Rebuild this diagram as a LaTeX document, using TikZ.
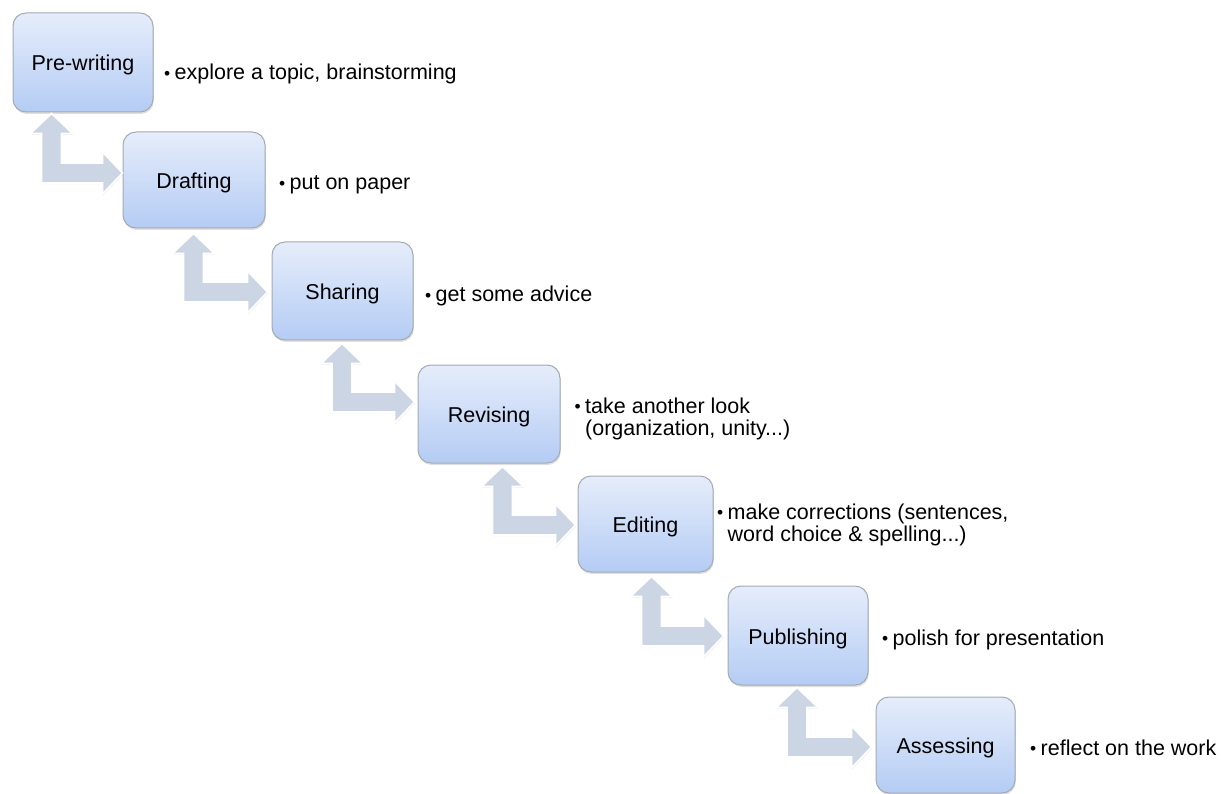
\documentclass[tikz,border=0pt]{standalone}
\usepackage{fontspec}
\setmainfont{Liberation Sans}
\usetikzlibrary{calc,shadows}
\definecolor{boxtop}{HTML}{E6EDFB}
\definecolor{boxbot}{HTML}{B4CCF4}
\definecolor{boxline}{HTML}{A3AAB3}
\definecolor{arrowfill}{HTML}{CCD5E3}
\tikzset{
  stepbox/.style={draw=boxline, line width=1pt, rounded corners=13pt,
    top color=boxtop, bottom color=boxbot, inner sep=0pt,
    text height=18pt, text depth=1pt,
    font=\fontsize{21.5}{22}\selectfont,
    drop shadow={opacity=0.25, shadow xshift=0.8pt, shadow yshift=-2pt}},
  bullettext/.style={anchor=base west, inner sep=0pt,
    font=\fontsize{21.5}{22}\selectfont},
  bentarrow/.style={fill=arrowfill, draw=white, line width=1.6pt, line join=miter,
    drop shadow={opacity=0.2, shadow xshift=0.6pt, shadow yshift=-1.2pt}}
}
\newcommand\bul{\makebox[11.5pt][l]{\hspace{1pt}{\fontsize{17.5}{17.5}\selectfont\raisebox{0.3pt}{•}}}}
\newcommand\bulindent{\hspace*{11.5pt}}
% #1 upper node, #2 lower node, #3 x offset of vertical shaft from upper south west,
% #4 gap below upper box, #5 gap before lower box, #6 y offset of horizontal shaft from lower west
\newcommand\drawbent[6]{%
  \path[bentarrow] let \p1=($(#1.south west)+(#3,#4)$), \p2=($(#2.west)+(#5,#6)$) in
    (\x1,\y1) -- (\x1+21pt,\y1-20pt) -- (\x1+10pt,\y1-20pt) -- (\x1+10pt,\y2+10pt)
    -- (\x2-20pt,\y2+10pt) -- (\x2-20pt,\y2+21pt) -- (\x2,\y2)
    -- (\x2-20pt,\y2-21pt) -- (\x2-20pt,\y2-10pt) -- (\x1-10pt,\y2-10pt)
    -- (\x1-10pt,\y1-20pt) -- (\x1-21pt,\y1-20pt) -- cycle;}
\begin{document}
\begin{tikzpicture}[x=1pt,y=-1pt]
\useasboundingbox (0,0) rectangle (1221,794);

\node[stepbox, minimum width=140pt, minimum height=99pt] (pre) at (83,62.5) {Pre-writing};
\node[stepbox, minimum width=142pt, minimum height=96pt] (dra) at (194,180) {Drafting};
\node[stepbox, minimum width=141pt, minimum height=98pt] (sha) at (342.5,291) {Sharing};
\node[stepbox, minimum width=142pt, minimum height=98pt] (rev) at (489,414) {Revising};
\node[stepbox, minimum width=135pt, minimum height=96pt] (edi) at (645.5,524) {Editing};
\node[stepbox, minimum width=140pt, minimum height=99pt] (pub) at (798,635.5) {Publishing};
\node[stepbox, minimum width=139pt, minimum height=96pt] (ass) at (945.5,745) {Assessing};

\drawbent{pre}{dra}{39}{1}{0}{-7}
\drawbent{dra}{sha}{71}{5}{-4}{1}
\drawbent{sha}{rev}{70.5}{3}{-3}{-12}
\drawbent{rev}{edi}{85}{3}{-2}{1}
\drawbent{edi}{pub}{74}{4}{-4}{0.5}
\drawbent{pub}{ass}{69.5}{2}{-4}{2}

\node[bullettext] (t1) at (163,80) {\bul explore a topic, brainstorming};
\node[bullettext] (t2) at (278,190) {\bul put on paper};
\node[bullettext] (t3) at (424,302) {\bul get some advice};
\node[bullettext] (t4) at (573.5,413) {\begin{tabular}[t]{@{}l@{}}\bul take another look\\\bulindent(organization, unity...)\end{tabular}};
\node[bullettext] (t5) at (716,519) {\begin{tabular}[t]{@{}l@{}}\bul make corrections (sentences,\\\bulindent word choice \& spelling...)\end{tabular}};
\node[bullettext] (t6) at (881,645) {\bul polish for presentation};
\node[bullettext] (t7) at (1029,755) {\bul reflect on the work};
\end{tikzpicture}
\end{document}
